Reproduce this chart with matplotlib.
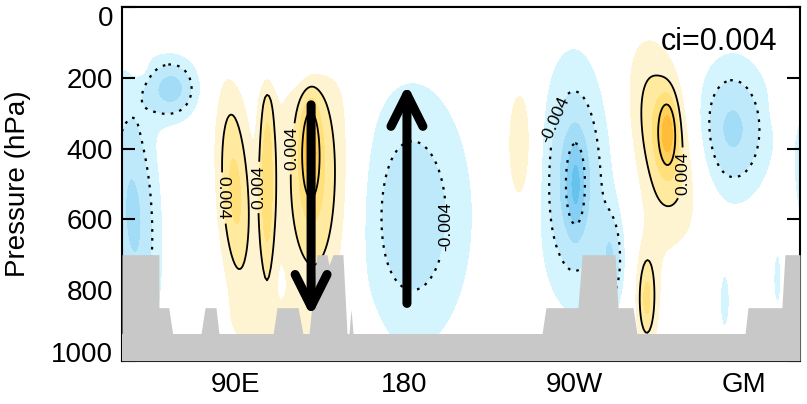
import numpy as np
import matplotlib
matplotlib.use("Agg")
import matplotlib.pyplot as plt
from matplotlib.transforms import ScaledTranslation

plt.rcParams['font.family'] = ['Liberation Sans', 'DejaVu Sans']

# anomaly blobs: centre lon, centre p, width lon, width p, amplitude, tilt (deg lon / 100 hPa)
blob_lon = [56.5, 36, 184, 270, 271, 290, 354, 396, 350, 378, 118,
            90, 107, 133, 130, 318, 320, 308.5, 312, 242, 382, 115, 39]
blob_p = [230, 590, 590, 490, 505, 720, 345, 450, 830, 770, 160,
          520, 490, 490, 400, 370, 350, 830, 720, 400, 280, 900, 160]
blob_wlon = [9.9, 10, 22.5, 13.2, 3.6, 5, 14.7, 6, 3, 2.5, 16,
             6.6, 3.2, 13.7, 3.5, 11.5, 3.5, 3.5, 8, 6.7, 4, 25, 3]
blob_wp = [63, 264, 265, 236, 91, 100, 141, 150, 90, 90, 45,
           220, 225, 264, 96, 180, 70, 90, 180, 162, 40, 60, 25]
blob_amp = [-0.007, -0.0065, -0.0055, -0.007, -0.004, -0.005, -0.0065, -0.005, -0.0028, -0.0026, -0.0032,
            0.0065, 0.0065, 0.0065, 0.006, 0.0065, 0.0055, 0.0055, 0.0015, 0.0038, 0.003, 0.0015, 0.0025]
blob_tilt = [0, 0.8, 0, 0, 0, 0, 0, 0, 0, 0, 0,
             1.0, 0, 0, 0, 3.0, 0, 0, 0, 0, 0, 0, 0]

# surface (model level) pressure along longitude
topo_lon = [30, 49.6, 49.6, 54.8, 56.9, 71.9, 74.1, 79.9, 81.5, 110.2, 112.3, 123.5, 126.1,
            129.3, 133.5, 138.8, 139.9, 142, 147.3, 149.5, 150.5, 151.6, 152.7,
            253, 255.1, 272.1, 274.3, 291.8, 293.4, 301.3, 303.5, 360.8, 362.4, 380.4, 382, 390]
topo_p = [700, 700, 850, 850, 925, 925, 850, 850, 925, 925, 850, 850, 925,
          925, 700, 700, 730, 700, 700, 925, 925, 855, 925,
          925, 850, 850, 700, 700, 850, 850, 925, 925, 850, 850, 700, 700]

xtick_pos = [90, 180, 270, 360]
xtick_lab = ['90E', '180', '90W', 'GM']
ytick_pos = [0, 200, 400, 600, 800, 1000]

fill_levels = [-1, -0.012, -0.010, -0.008, -0.006, -0.004, -0.002,
               0.002, 0.004, 0.006, 0.008, 0.010, 0.012, 1]
fill_colors = ['#4cb4ea', '#68c2ee', '#84cff3', '#a2dcf7', '#bde9fa', '#d4f5fd',
               '#ffffff',
               '#fff4d2', '#ffeaa0', '#ffe07a', '#ffd05a', '#ffbd3a', '#ffab22']

# arrows: lon, tail p, head p
arrow_lon = [130.4, 181.3]
arrow_tail = [276, 838]
arrow_head = [875, 218]

# contour label spots and their text angle
lab_pos = [(83, 540), (105, 510), (119, 400), (331, 470)]
rot_pos = [-90, 90, 90, 90]
lab_neg = [(262, 320), (198, 620)]
rot_neg = [66, 90]

lon = np.arange(30, 390.5, 1.0)
pres = np.arange(0, 1001, 5.0)
LON, P = np.meshgrid(lon, pres)
field = np.zeros_like(LON)
for lo, pc, wl, wp, a, t in zip(blob_lon, blob_p, blob_wlon, blob_wp, blob_amp, blob_tilt):
    c = lo + t * (P - pc) / 100.0
    field += a * np.exp(-0.5 * (((LON - c) / wl) ** 2 + ((P - pc) / wp) ** 2))

fig = plt.figure(figsize=(8.07, 4.04), dpi=100)
ax = fig.add_axes([0.1512, 0.1072, 0.8401, 0.8748])

ax.contourf(LON, P, field, levels=fill_levels, colors=fill_colors, zorder=1)
fmt = lambda v: f"{v:.3f}"
cs_p4 = ax.contour(LON, P, field, levels=[0.004], colors='k', linewidths=1.3,
                   linestyles='solid', zorder=2)
cs_p8 = ax.contour(LON, P, field, levels=[0.008], colors='k', linewidths=1.3,
                   linestyles='solid', zorder=2)
cs_n4 = ax.contour(LON, P, field, levels=[-0.004], colors='k', linewidths=1.6, zorder=2)
cs_n8 = ax.contour(LON, P, field, levels=[-0.008], colors='k', linewidths=1.6, zorder=2)
for cs in (cs_n4, cs_n8):
    cs.set_linestyle((0, (1.2, 2.8)))
tp = ax.clabel(cs_p4, manual=lab_pos, fmt=fmt, fontsize=12.5, inline=True, inline_spacing=4)
tn = ax.clabel(cs_n4, manual=lab_neg, fmt=fmt, fontsize=12.5, inline=True, inline_spacing=4)
for t, r in zip(list(tp) + list(tn), rot_pos + rot_neg):
    t.set_rotation(r)

ax.fill_between(topo_lon, topo_p, 1000, color='#c8c8c8', lw=0, zorder=3)
ax.fill_between([30, 390], [925, 925], 1000, color='#c8c8c8', lw=0, zorder=3)

for lo, p0, p1 in zip(arrow_lon, arrow_tail, arrow_head):
    ax.annotate('', xy=(lo, p1), xytext=(lo, p0), zorder=5,
                arrowprops=dict(arrowstyle='->,head_length=2.3,head_width=1.15',
                                lw=6.5, color='k', shrinkA=0, shrinkB=0,
                                mutation_scale=10))

ax.text(0.966, 0.879, 'ci=0.004', transform=ax.transAxes, ha='right',
        va='baseline', fontsize=22, zorder=6)

ax.set_xlim(30, 390)
ax.set_ylim(1000, 0)
ax.set_xticks(xtick_pos)
ax.set_xticklabels(xtick_lab)
ax.set_yticks(ytick_pos)
ax.tick_params(axis='x', direction='in', length=4.3, width=1.5, labelsize=20, pad=8)
ax.tick_params(axis='y', direction='in', length=9.4, width=1.5, labelsize=20, pad=6.5,
               right=True)
# end labels nudged inside, as in the original
ylabs = ax.get_yticklabels()
ylabs[0].set_transform(ylabs[0].get_transform() + ScaledTranslation(0, -0.087, fig.dpi_scale_trans))
ylabs[-1].set_transform(ylabs[-1].get_transform() + ScaledTranslation(0, 0.087, fig.dpi_scale_trans))
top = ax.secondary_xaxis('top')
top.set_xticks([120, 210, 300])
top.set_xticklabels([])
top.tick_params(direction='in', length=4.3, width=1.5)
for s in list(ax.spines.values()) + list(top.spines.values()):
    s.set_linewidth(1.5)
ax.set_ylabel('Pressure (hPa)', fontsize=20)
ax.yaxis.set_label_coords(-0.134, 0.5)

fig.savefig('out.png', dpi=100)
